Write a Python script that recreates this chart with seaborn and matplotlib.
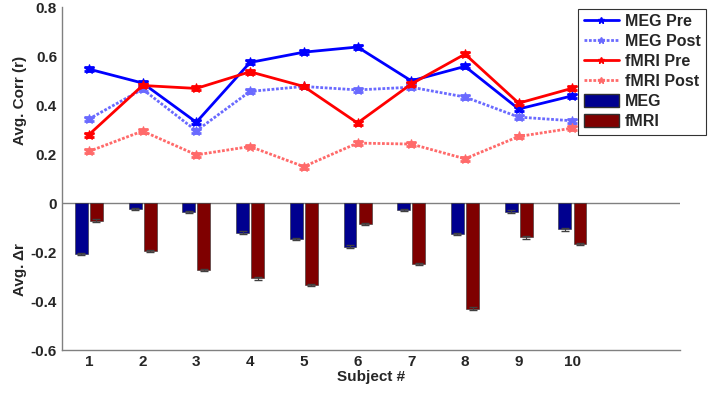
import numpy as np
import pandas as pd
import seaborn as sns
import matplotlib.pyplot as plt
from matplotlib.lines import Line2D
from matplotlib.patches import Patch

# --- data ---
subjects = [1, 2, 3, 4, 5, 6, 7, 8, 9, 10]
meg_pre = [0.547, 0.490, 0.330, 0.574, 0.616, 0.637, 0.499, 0.558, 0.384, 0.438]
meg_post = [0.343, 0.465, 0.295, 0.456, 0.476, 0.462, 0.473, 0.433, 0.351, 0.336]
fmri_pre = [0.279, 0.480, 0.468, 0.536, 0.476, 0.327, 0.486, 0.608, 0.408, 0.469]
fmri_post = [0.211, 0.294, 0.197, 0.231, 0.149, 0.245, 0.241, 0.181, 0.272, 0.306]
line_err = [0.008] * 10

meg_delta = [-0.207, -0.023, -0.037, -0.120, -0.146, -0.177, -0.027, -0.126, -0.035, -0.107]
fmri_delta = [-0.071, -0.195, -0.272, -0.307, -0.333, -0.085, -0.248, -0.430, -0.140, -0.166]
delta_err = [0.005] * 10

BLUE = "#0000ff"
BLUE_LIGHT = "#6a6aff"
RED = "#ff0000"
RED_LIGHT = "#ff6a6a"
NAVY = "#00008f"
MAROON = "#7f0000"
FS = 11

sns.set_style("white")
plt.rcParams["font.family"] = ["Liberation Sans", "DejaVu Sans"]
plt.rcParams["font.weight"] = "bold"

fig = plt.figure(figsize=(7.09, 3.93), dpi=100)
ax = fig.add_axes([0.0874, 0.109, 0.8716, 0.873])

# --- bars (delta r) ---
bars = pd.DataFrame({
    "subject": subjects * 2,
    "delta": meg_delta + fmri_delta,
    "modality": ["MEG"] * 10 + ["fMRI"] * 10,
})
sns.barplot(data=bars, x="subject", y="delta", hue="modality", native_scale=True,
            width=0.56, gap=0.14, palette=[NAVY, MAROON], saturation=1,
            errorbar=None, legend=False, edgecolor="#303030", linewidth=0.4, ax=ax)
sub = np.array(subjects)
ax.errorbar(sub - 0.14, meg_delta, yerr=delta_err, fmt="none", ecolor="#404040",
            elinewidth=0.8, capsize=3)
ax.errorbar(sub + 0.14, fmri_delta, yerr=delta_err, fmt="none", ecolor="#404040",
            elinewidth=0.8, capsize=3)

# --- correlation lines ---
series = [
    ("MEG Pre", meg_pre, BLUE, "-"),
    ("MEG Post", meg_post, BLUE_LIGHT, (0, (1, 0.6))),
    ("fMRI Pre", fmri_pre, RED, "-"),
    ("fMRI Post", fmri_post, RED_LIGHT, (0, (1, 0.6))),
]
for name, vals, col, ls in series:
    sns.lineplot(x=subjects, y=vals, color=col, linestyle=ls, linewidth=2,
                 marker="*", markersize=7, markeredgecolor=col, ax=ax)
    ax.errorbar(subjects, vals, yerr=line_err, fmt="none", ecolor=col,
                elinewidth=2, capsize=3.5, capthick=2)

ax.axhline(0, color="#808080", lw=1, zorder=0.5)

# --- axes cosmetics ---
ax.set_xlim(0.5, 12)
ax.set_ylim(-0.6, 0.8)
ax.set_xticks(subjects)
ax.set_xticklabels([str(s) for s in subjects], fontsize=FS, fontweight="bold")
yticks = [-0.6, -0.4, -0.2, 0, 0.2, 0.4, 0.6, 0.8]
ax.set_yticks(yticks)
ax.set_yticklabels(["0" if t == 0 else f"{t:.1f}" for t in yticks],
                   fontsize=FS, fontweight="bold")
ax.tick_params(direction="in", length=4, color="#808080", width=1)
for s in ["top", "right"]:
    ax.spines[s].set_visible(False)
for s in ["left", "bottom"]:
    ax.spines[s].set_color("#808080")
    ax.spines[s].set_linewidth(1)
ax.set_xlabel("Subject #", fontsize=FS, fontweight="bold", labelpad=1)
ax.set_ylabel("")
ax.text(-0.068, 0.42, "Avg. Corr (r)", transform=ax.get_yaxis_transform(),
        rotation=90, ha="center", va="center", fontsize=FS, fontweight="bold")
ax.text(-0.068, -0.27, "Avg. Δr", transform=ax.get_yaxis_transform(),
        rotation=90, ha="center", va="center", fontsize=FS, fontweight="bold")

handles = [Line2D([], [], color=c, linestyle=ls, linewidth=2, marker="*", markersize=5)
           for _, _, c, ls in series]
handles += [Patch(facecolor=NAVY, edgecolor="#303030"),
            Patch(facecolor=MAROON, edgecolor="#303030")]
labels = [s[0] for s in series] + ["MEG", "fMRI"]
leg = fig.legend(handles, labels, loc="upper right", bbox_to_anchor=(0.998, 0.982),
                 prop={"weight": "bold", "size": 11.5}, frameon=True,
                 fancybox=False, edgecolor="black", handlelength=2.2,
                 handleheight=0.9, labelspacing=0.3, borderpad=0.35,
                 handletextpad=0.35, borderaxespad=0.1)
leg.get_frame().set_linewidth(0.8)

fig.savefig("out.png", dpi=100)
